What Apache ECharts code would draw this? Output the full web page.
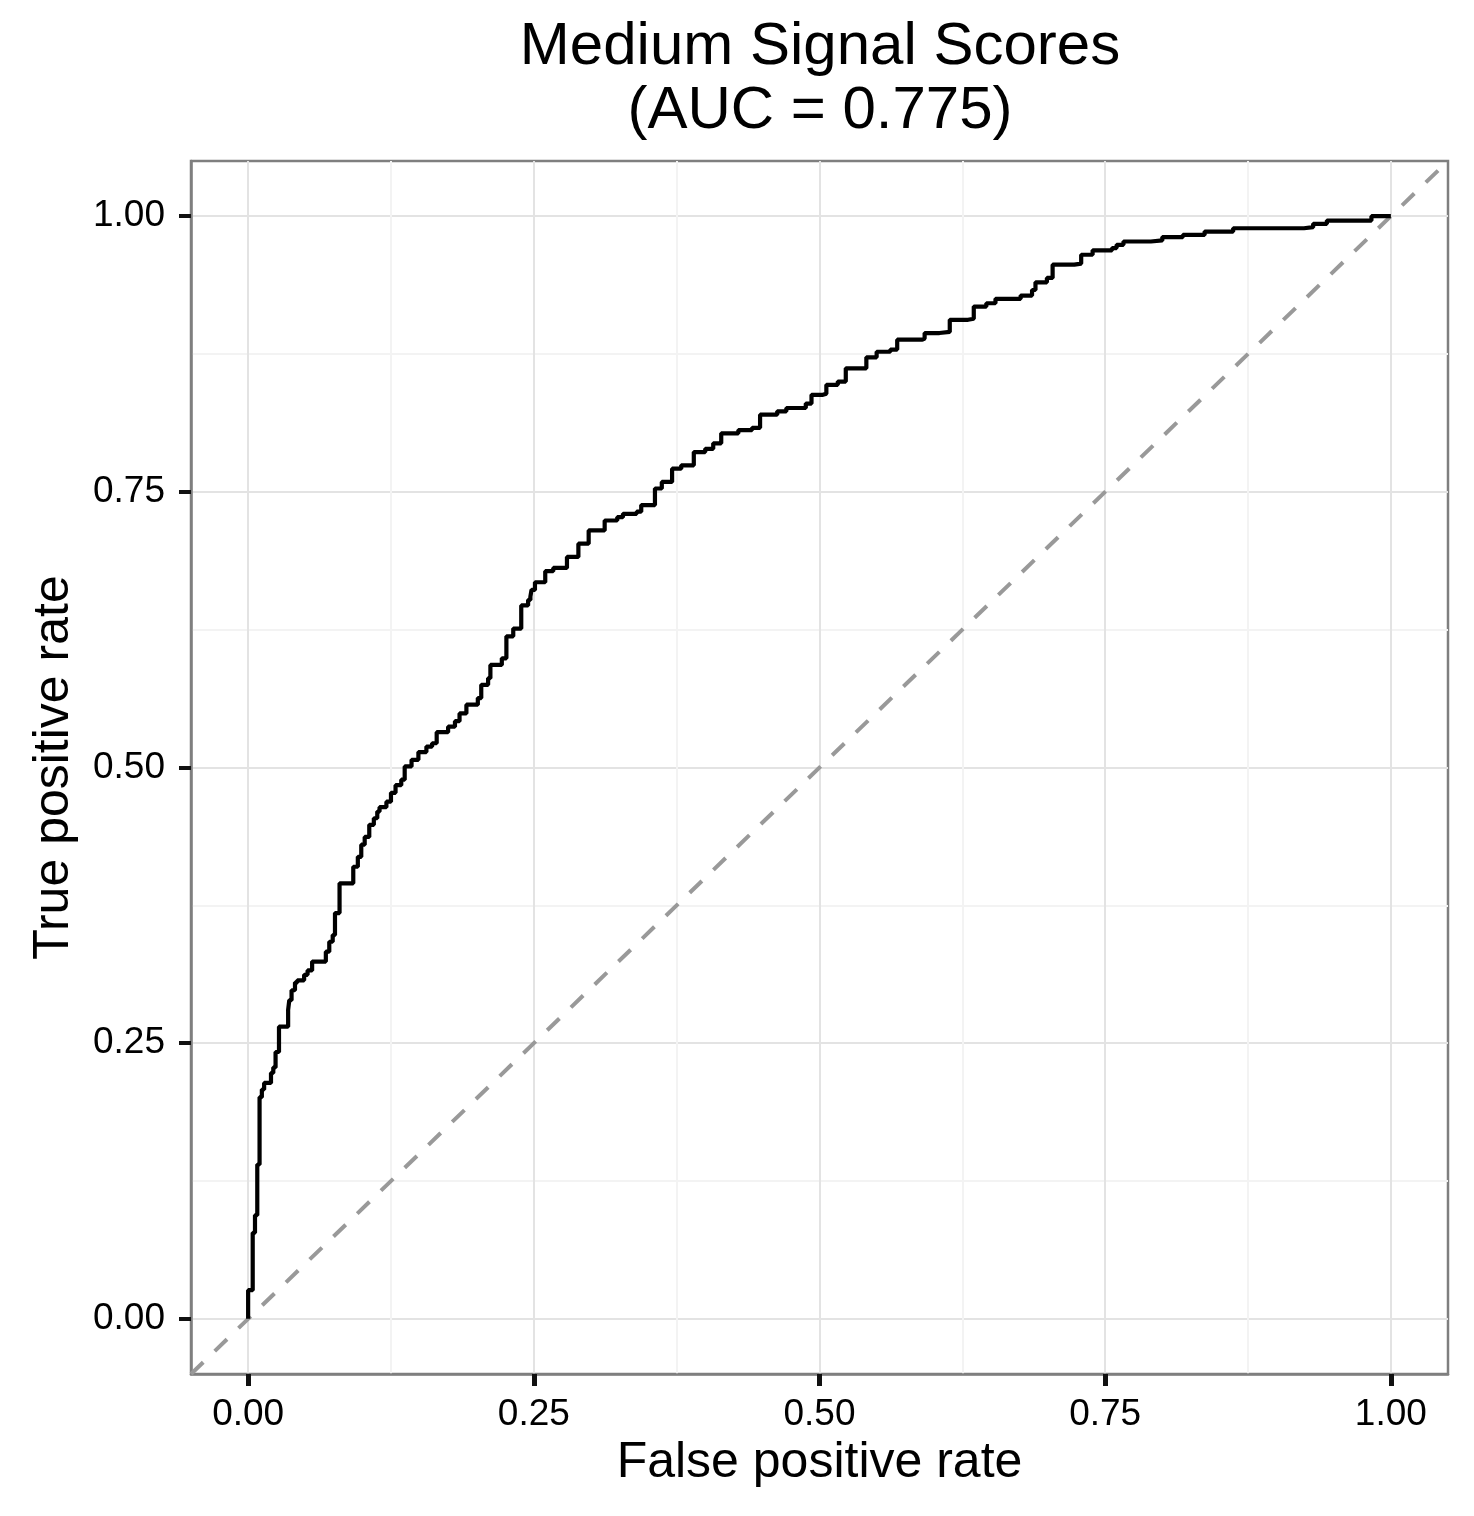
<!DOCTYPE html>
<html>
<head>
<meta charset="utf-8">
<script src="https://cdn.jsdelivr.net/npm/echarts@6/dist/echarts.min.js"></script>
<style>
html,body{margin:0;padding:0;background:#fff;}
#chart{width:1474px;height:1516px;}
</style>
</head>
<body>
<div id="chart"></div>
<script>
// ROC curve (false positive rate / true positive rate)
var fpr = [0, 0, 0.004, 0.006, 0.008, 0.010, 0.012, 0.014, 0.020, 0.022,
  0.024, 0.027, 0.035, 0.036, 0.038, 0.041, 0.043, 0.049, 0.052, 0.056,
  0.068, 0.071, 0.074, 0.076, 0.080, 0.092, 0.096, 0.099, 0.102, 0.106,
  0.110, 0.113, 0.115, 0.121, 0.125, 0.129, 0.134, 0.137, 0.143, 0.149,
  0.156, 0.161, 0.165, 0.175, 0.181, 0.185, 0.191, 0.201, 0.204, 0.210,
  0.212, 0.222, 0.226, 0.232, 0.239, 0.245, 0.247, 0.248, 0.251, 0.260,
  0.267, 0.279, 0.289, 0.298, 0.312, 0.323, 0.328, 0.340, 0.344, 0.356,
  0.362, 0.371, 0.379, 0.390, 0.400, 0.407, 0.414, 0.429, 0.441, 0.448,
  0.463, 0.471, 0.488, 0.493, 0.503, 0.506, 0.516, 0.523, 0.541, 0.550,
  0.562, 0.568, 0.590, 0.592, 0.605, 0.614, 0.630, 0.635, 0.646, 0.654,
  0.676, 0.686, 0.689, 0.699, 0.704, 0.723, 0.729, 0.739, 0.756, 0.760,
  0.766, 0.790, 0.800, 0.818, 0.837, 0.862, 0.924, 0.932, 0.944, 0.983, 1];
var tpr = [0, 0.026, 0.078, 0.094, 0.140, 0.201, 0.208, 0.214, 0.223, 0.228,
  0.242, 0.265, 0.280, 0.289, 0.298, 0.305, 0.307, 0.312, 0.316, 0.324,
  0.333, 0.342, 0.348, 0.368, 0.395, 0.410, 0.419, 0.430, 0.437, 0.448,
  0.454, 0.460, 0.464, 0.469, 0.477, 0.484, 0.489, 0.501, 0.507, 0.514,
  0.519, 0.522, 0.532, 0.537, 0.542, 0.549, 0.557, 0.563, 0.575, 0.581,
  0.593, 0.599, 0.619, 0.626, 0.647, 0.652, 0.655, 0.661, 0.668, 0.678,
  0.681, 0.691, 0.703, 0.715, 0.724, 0.727, 0.730, 0.732, 0.738, 0.753,
  0.759, 0.771, 0.774, 0.786, 0.789, 0.794, 0.803, 0.806, 0.808, 0.820,
  0.823, 0.826, 0.830, 0.838, 0.839, 0.847, 0.850, 0.862, 0.872, 0.877,
  0.879, 0.888, 0.889, 0.894, 0.895, 0.906, 0.907, 0.918, 0.921, 0.925,
  0.928, 0.933, 0.940, 0.944, 0.956, 0.957, 0.965, 0.969, 0.971, 0.974,
  0.977, 0.978, 0.981, 0.983, 0.986, 0.989, 0.990, 0.993, 0.996, 1, 1];
var diagonal = [-0.05, 1.05];
var majorTicks = [0, 0.25, 0.5, 0.75, 1];
var minorTicks = [0.125, 0.375, 0.625, 0.875];

var FONT = 'Liberation Sans, Arial, Helvetica, sans-serif';

var rocData = [];
for (var i = 0; i < fpr.length; i++) {
  rocData.push([fpr[i], tpr[i]]);
}
var diagData = [[diagonal[0], diagonal[0]], [diagonal[1], diagonal[1]]];

function fmt(v) { return v.toFixed(2); }

// main axis: ticks, labels, major grid
function mainAxis(isX) {
  return {
    type: 'value',
    position: isX ? 'bottom' : 'left',
    min: -0.05,
    max: 1.05,
    name: isX ? 'False positive rate' : 'True positive rate',
    nameLocation: 'middle',
    nameGap: isX ? 54 : 112,
    nameTextStyle: {fontFamily: FONT, fontSize: 50, color: '#000'},
    axisLine: {show: true, onZero: false, lineStyle: {color: '#7f7f7f', width: 2.5}},
    axisTick: {show: true, inside: false, length: 12, customValues: majorTicks,
      lineStyle: {color: '#111', width: isX ? 5 : 4}},
    axisLabel: {show: true, customValues: majorTicks, formatter: fmt,
      margin: isX ? 22 : 26, fontFamily: FONT, fontSize: 37, color: '#000'},
    splitLine: {show: true, lineStyle: {color: '#e3e3e3', width: 2}}
  };
}
// second axis only for the minor grid
function minorAxis(isX) {
  return {
    type: 'value',
    position: isX ? 'top' : 'right',
    min: -0.05,
    max: 1.05,
    axisLine: {show: false, onZero: false},
    axisTick: {show: false, customValues: minorTicks},
    axisLabel: {show: false},
    splitLine: {show: true, lineStyle: {color: '#f3f3f3', width: 2}}
  };
}

var myChart = echarts.init(document.getElementById('chart'));
myChart.setOption({
  animation: false,
  backgroundColor: '#fff',
  title: {
    text: 'Medium Signal Scores\n(AUC = 0.775)',
    left: 815,
    top: 10,
    textAlign: 'center',
    textStyle: {fontFamily: FONT, fontSize: 60, fontWeight: 'normal', color: '#000', lineHeight: 64}
  },
  grid: {
    left: 191, right: 26, top: 161, bottom: 142,
    show: true, backgroundColor: '#fff',
    borderColor: '#7f7f7f', borderWidth: 2.5,
    containLabel: false
  },
  xAxis: [mainAxis(true), minorAxis(true)],
  yAxis: [mainAxis(false), minorAxis(false)],
  series: [
    {
      type: 'line',
      data: diagData,
      symbol: 'none',
      silent: true,
      lineStyle: {color: '#999999', width: 4, type: [17, 16]},
      z: 2
    },
    {
      type: 'line',
      data: rocData,
      step: 'end',
      symbol: 'none',
      silent: true,
      lineStyle: {color: '#000', width: 4.2},
      z: 3
    }
  ]
});
</script>
</body>
</html>
